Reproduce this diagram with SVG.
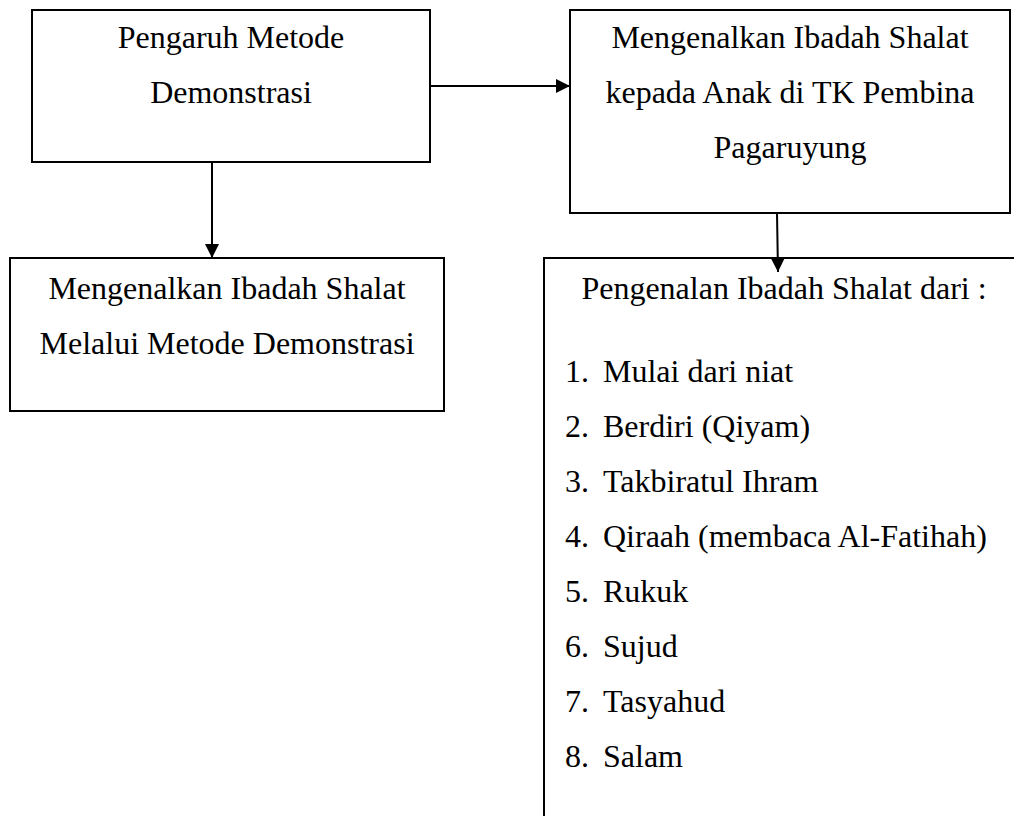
<svg xmlns="http://www.w3.org/2000/svg" width="1014" height="816" viewBox="0 0 1014 816">
  <style>
    .box { fill: #ffffff; stroke: #000000; stroke-width: 2; }
    .t { font-family: "Liberation Serif", "Times New Roman", serif; font-size: 32px; fill: #000000; }
    .c { text-anchor: middle; }
    .conn { stroke: #000000; stroke-width: 2; fill: none; }
  </style>
  <defs>
    <marker id="arrow" markerUnits="userSpaceOnUse" markerWidth="14" markerHeight="14" refX="14" refY="7" orient="auto">
      <path d="M0,0 L14,7 L0,14 z" fill="#000000"/>
    </marker>
  </defs>
  <rect x="0" y="0" width="1014" height="816" fill="#ffffff"/>

  <g id="node-pengaruh">
    <rect class="box" x="32" y="10" width="398" height="152"/>
    <text class="t c" x="231" y="48">Pengaruh Metode</text>
    <text class="t c" x="231" y="103">Demonstrasi</text>
  </g>

  <g id="node-mengenalkan-tk">
    <rect class="box" x="570" y="10" width="440" height="203"/>
    <text class="t c" x="790" y="48">Mengenalkan Ibadah Shalat</text>
    <text class="t c" x="790" y="103">kepada Anak di TK Pembina</text>
    <text class="t c" x="790" y="158">Pagaruyung</text>
  </g>

  <g id="node-mengenalkan-metode">
    <rect class="box" x="10" y="258" width="434" height="153"/>
    <text class="t c" x="227" y="299">Mengenalkan Ibadah Shalat</text>
    <text class="t c" x="227" y="354">Melalui Metode Demonstrasi</text>
  </g>

  <g id="node-pengenalan">
    <rect class="box" x="544" y="258" width="490" height="600"/>
    <text class="t c" x="784" y="299">Pengenalan Ibadah Shalat dari :</text>
    <text class="t" x="565" y="382">1.</text><text class="t" x="603" y="382">Mulai dari niat</text>
    <text class="t" x="565" y="437">2.</text><text class="t" x="603" y="437">Berdiri (Qiyam)</text>
    <text class="t" x="565" y="492">3.</text><text class="t" x="603" y="492">Takbiratul Ihram</text>
    <text class="t" x="565" y="547">4.</text><text class="t" x="603" y="547">Qiraah (membaca Al-Fatihah)</text>
    <text class="t" x="565" y="602">5.</text><text class="t" x="603" y="602">Rukuk</text>
    <text class="t" x="565" y="657">6.</text><text class="t" x="603" y="657">Sujud</text>
    <text class="t" x="565" y="712">7.</text><text class="t" x="603" y="712">Tasyahud</text>
    <text class="t" x="565" y="767">8.</text><text class="t" x="603" y="767">Salam</text>
  </g>

  <g id="connectors">
    <line class="conn" x1="430" y1="86" x2="570" y2="86" marker-end="url(#arrow)"/>
    <line class="conn" x1="212" y1="162" x2="212" y2="258" marker-end="url(#arrow)"/>
    <line class="conn" x1="777" y1="213" x2="778" y2="272" marker-end="url(#arrow)"/>
  </g>
</svg>
